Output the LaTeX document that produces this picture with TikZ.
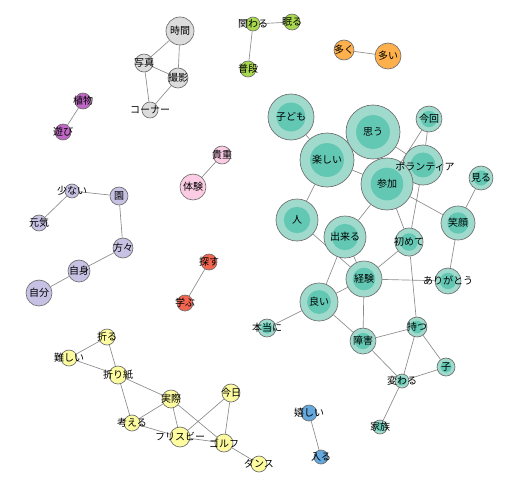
\documentclass[tikz,border=0pt]{standalone}
\usepackage{fontspec}
\setmainfont{Noto Sans CJK JP}
\pgfdeclarelayer{background}
\pgfsetlayers{background,main}
\definecolor{tout}{HTML}{A0DACC}
\definecolor{tin}{HTML}{62C7B3}
\definecolor{cgray}{HTML}{DCDCDC}
\definecolor{cgreen}{HTML}{A8D84E}
\definecolor{corange}{HTML}{FDB04C}
\definecolor{cpurple}{HTML}{C068C6}
\definecolor{clav}{HTML}{C7C2E4}
\definecolor{cpink}{HTML}{FBCCE3}
\definecolor{cred}{HTML}{F26652}
\definecolor{cblue}{HTML}{64A8DE}
\definecolor{cyellow}{HTML}{FDFB9F}
\definecolor{cborder}{HTML}{6E6E6E}
\definecolor{cedge}{HTML}{8C8C8C}
\tikzset{
  x=0.75pt, y=-0.75pt,
  wnode/.style={circle, draw=cborder, line width=0.5pt, inner sep=0pt, minimum size={#1*1.5pt}},
  tnode/.style={wnode=#1, fill=tout, path picture={\fill[tin] (path picture bounding box.center) circle [radius={#1*0.47pt}];}},
  lbl/.style={inner sep=0pt, font=\fontsize{7.5}{8}\selectfont, text=black},
  edge/.style={draw=cedge, line width=0.5pt}
}
\begin{document}
\begin{tikzpicture}
\useasboundingbox (0,0) rectangle (517,480);
% gray
\node[wnode=14, fill=cgray] (jikan) at (180,31) {};
\node[wnode=9, fill=cgray] (shashin) at (144,63) {};
\node[wnode=10, fill=cgray] (satsuei) at (178,78) {};
\node[wnode=8, fill=cgray] (corner) at (150,110) {};
% green
\node[wnode=7, fill=cgreen] (kakawaru) at (253,24) {};
\node[wnode=8, fill=cgreen] (nemuru) at (292,22) {};
\node[wnode=8, fill=cgreen] (fudan) at (248,69) {};
% orange
\node[wnode=10, fill=corange] (ooku) at (344,50) {};
\node[wnode=13, fill=corange] (ooi) at (388,56) {};
% purple
\node[wnode=8, fill=cpurple] (shokubutsu) at (83,101) {};
\node[wnode=8, fill=cpurple] (asobi) at (63,132) {};
% lavender
\node[wnode=7, fill=clav] (sukunai) at (72,191) {};
\node[wnode=9, fill=clav] (en) at (119,196) {};
\node[wnode=8, fill=clav] (genki) at (39,223) {};
\node[wnode=10, fill=clav] (katagata) at (123,248) {};
\node[wnode=11, fill=clav] (jishin) at (79,271) {};
\node[wnode=13, fill=clav] (jibun) at (39,293) {};
% pink
\node[wnode=9, fill=cpink] (kichou) at (222,155) {};
\node[wnode=13, fill=cpink] (taiken) at (193,187) {};
% red
\node[wnode=8, fill=cred] (sagasu) at (209,262) {};
\node[wnode=8, fill=cred] (manabu) at (185,303) {};
% blue
\node[wnode=8, fill=cblue] (ureshii) at (309,413) {};
\node[wnode=7, fill=cblue] (hairu) at (321,457) {};
% yellow
\node[wnode=8, fill=cyellow] (oru) at (107,337) {};
\node[wnode=8, fill=cyellow] (muzukashii) at (69,358) {};
\node[wnode=9, fill=cyellow] (origami) at (118,375) {};
\node[wnode=9, fill=cyellow] (jissai) at (171,399) {};
\node[wnode=9, fill=cyellow] (kyou) at (231,393) {};
\node[wnode=8, fill=cyellow] (kangaeru) at (132,423) {};
\node[wnode=10, fill=cyellow] (frisbee) at (180,437) {};
\node[wnode=9, fill=cyellow] (golf) at (224,443) {};
\node[wnode=8, fill=cyellow] (dance) at (259,464) {};
% teal
\node[tnode=23] (kodomo) at (291,117) {};
\node[tnode=27] (omou) at (373,132) {};
\node[tnode=13] (konkai) at (429,119) {};
\node[tnode=27] (tanoshii) at (327,160) {};
\node[tnode=20] (volunteer) at (423,165) {};
\node[tnode=12] (miru) at (481,178) {};
\node[tnode=26] (sanka) at (387,184) {};
\node[tnode=21] (hito) at (297,220) {};
\node[tnode=21] (dekiru) at (345,237) {};
\node[tnode=14] (hajimete) at (409,242) {};
\node[tnode=17] (egao) at (458,223) {};
\node[tnode=18] (keiken) at (364,279) {};
\node[tnode=13] (arigatou) at (448,281) {};
\node[tnode=19] (yoi) at (319,302) {};
\node[tnode=9] (hontou) at (267,328) {};
\node[tnode=10] (motsu) at (417,327) {};
\node[tnode=13] (shougai) at (363,341) {};
\node[tnode=9] (ko) at (446,367) {};
\node[tnode=7] (kawaru) at (402,381) {};
\node[tnode=7] (kazoku) at (380,427) {};
% labels
\node[lbl] (l-jikan) at (jikan) {時間};
\node[lbl] (l-shashin) at (shashin) {写真};
\node[lbl] (l-satsuei) at (satsuei) {撮影};
\node[lbl] (l-corner) at (corner) {コーナー};
\node[lbl] (l-kakawaru) at (kakawaru) {関わる};
\node[lbl] (l-nemuru) at (nemuru) {眠る};
\node[lbl] (l-fudan) at (fudan) {普段};
\node[lbl] (l-ooku) at (ooku) {多く};
\node[lbl] (l-ooi) at (ooi) {多い};
\node[lbl] (l-shokubutsu) at (shokubutsu) {植物};
\node[lbl] (l-asobi) at (asobi) {遊び};
\node[lbl] (l-sukunai) at (sukunai) {少ない};
\node[lbl] (l-en) at (en) {園};
\node[lbl] (l-genki) at (genki) {元気};
\node[lbl] (l-katagata) at (katagata) {方々};
\node[lbl] (l-jishin) at (jishin) {自身};
\node[lbl] (l-jibun) at (jibun) {自分};
\node[lbl] (l-kichou) at (kichou) {貴重};
\node[lbl] (l-taiken) at (taiken) {体験};
\node[lbl] (l-sagasu) at (sagasu) {探す};
\node[lbl] (l-manabu) at (manabu) {学ぶ};
\node[lbl] (l-ureshii) at (ureshii) {嬉しい};
\node[lbl] (l-hairu) at (hairu) {入る};
\node[lbl] (l-oru) at (oru) {折る};
\node[lbl] (l-muzukashii) at (muzukashii) {難しい};
\node[lbl] (l-origami) at (origami) {折り紙};
\node[lbl] (l-jissai) at (jissai) {実際};
\node[lbl] (l-kyou) at (kyou) {今日};
\node[lbl] (l-kangaeru) at (kangaeru) {考える};
\node[lbl] (l-frisbee) at (frisbee) {フリスビー};
\node[lbl] (l-golf) at (golf) {ゴルフ};
\node[lbl] (l-dance) at (dance) {ダンス};
\node[lbl] (l-kodomo) at (kodomo) {子ども};
\node[lbl] (l-omou) at (omou) {思う};
\node[lbl] (l-konkai) at (konkai) {今回};
\node[lbl] (l-tanoshii) at (tanoshii) {楽しい};
\node[lbl] (l-volunteer) at (425,167) {ボランティア};
\node[lbl] (l-miru) at (miru) {見る};
\node[lbl] (l-sanka) at (sanka) {参加};
\node[lbl] (l-hito) at (hito) {人};
\node[lbl] (l-dekiru) at (dekiru) {出来る};
\node[lbl] (l-hajimete) at (hajimete) {初めて};
\node[lbl] (l-egao) at (egao) {笑顔};
\node[lbl] (l-keiken) at (keiken) {経験};
\node[lbl] (l-arigatou) at (arigatou) {ありがとう};
\node[lbl] (l-yoi) at (yoi) {良い};
\node[lbl] (l-hontou) at (hontou) {本当に};
\node[lbl] (l-motsu) at (motsu) {持つ};
\node[lbl] (l-shougai) at (shougai) {障害};
\node[lbl] (l-ko) at (ko) {子};
\node[lbl] (l-kawaru) at (kawaru) {変わる};
\node[lbl] (l-kazoku) at (kazoku) {家族};
\begin{pgfonlayer}{background}
\path[edge] (jikan) -- (shashin) (jikan) -- (satsuei) (shashin) -- (satsuei)
  (shashin) -- (corner) (satsuei) -- (corner)
  (kakawaru) -- (nemuru) (kakawaru) -- (fudan)
  (ooku) -- (ooi) (shokubutsu) -- (asobi)
  (sukunai) -- (en) (sukunai) -- (genki) (en) -- (katagata)
  (katagata) -- (jishin) (jishin) -- (jibun)
  (kichou) -- (taiken) (sagasu) -- (manabu) (ureshii) -- (hairu)
  (oru) -- (muzukashii) (oru) -- (origami) (muzukashii) -- (origami)
  (origami) -- (jissai) (origami) -- (kangaeru) (jissai) -- (kangaeru)
  (jissai) -- (frisbee) (jissai) -- (golf) (kyou) -- (frisbee) (kyou) -- (golf)
  (kangaeru) -- (frisbee) (frisbee) -- (golf) (golf) -- (dance)
  (kodomo) -- (tanoshii) (tanoshii) -- (omou) (tanoshii) -- (sanka) (tanoshii) -- (hito)
  (omou) -- (sanka) (omou) -- (volunteer) (konkai) -- (sanka) (konkai) -- (volunteer)
  (volunteer) -- (hajimete) (sanka) -- (volunteer) (sanka) -- (hajimete) (sanka) -- (egao)
  (sanka) -- (dekiru) (egao) -- (miru) (egao) -- (arigatou)
  (hito) -- (keiken) (dekiru) -- (keiken) (dekiru) -- (yoi)
  (hajimete) -- (keiken) (hajimete) -- (motsu)
  (keiken) -- (arigatou) (keiken) -- (yoi) (keiken) -- (shougai)
  (yoi) -- (hontou) (yoi) -- (shougai)
  (shougai) -- (motsu) (shougai) -- (kawaru)
  (motsu) -- (kawaru) (motsu) -- (ko) (ko) -- (kawaru) (kawaru) -- (kazoku);
\end{pgfonlayer}
\end{tikzpicture}
\end{document}
